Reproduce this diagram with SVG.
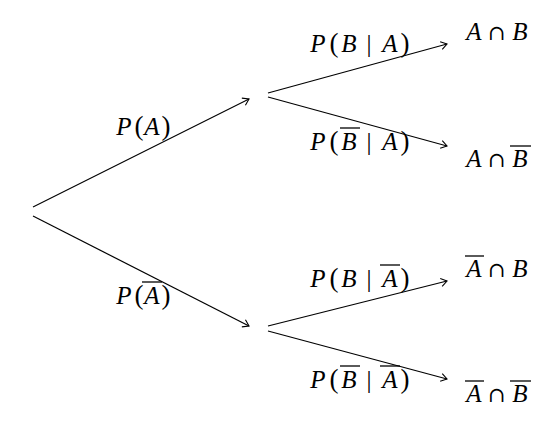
<svg xmlns="http://www.w3.org/2000/svg" width="557" height="428" viewBox="0 0 557 428">
<style>
text{font-family:"Liberation Serif","Times New Roman",serif;font-size:25px;fill:#000;text-anchor:middle}
.i{font-style:italic}
.p{font-size:27px}
.c{font-family:"DejaVu Serif",serif;font-size:21px}
.e{stroke:#000;stroke-width:1.2;fill:none}
.o{stroke:#000;stroke-width:1.3}
</style>
<defs>
<marker id="to" markerUnits="userSpaceOnUse" orient="auto" refX="0" refY="0" markerWidth="12" markerHeight="12" viewBox="-8 -6 10 12" overflow="visible">
<path d="M-6,-4 Q-1.5,-1 0,0 Q-1.5,1 -6,4" fill="none" stroke="#000" stroke-width="1.1"/>
</marker>
</defs>
<g id="edges">
<line class="e" x1="33" y1="207" x2="249" y2="99" marker-end="url(#to)"/>
<line class="e" x1="33" y1="216" x2="249" y2="326" marker-end="url(#to)"/>
<line class="e" x1="268" y1="93" x2="447" y2="44" marker-end="url(#to)"/>
<line class="e" x1="268" y1="97" x2="447" y2="146" marker-end="url(#to)"/>
<line class="e" x1="268" y1="326" x2="447" y2="281" marker-end="url(#to)"/>
<line class="e" x1="268" y1="331" x2="447" y2="379" marker-end="url(#to)"/>
<g id="lbl-BA" transform="translate(0,52)">
<text class="i" x="318" y="0">P</text><text class="p" x="334" y="0">(</text><text class="i" x="349" y="0">B</text><text x="369" y="0">|</text><text class="i" x="390" y="0">A</text><text class="p" x="405" y="0">)</text>
</g>
<g id="lbl-BbarA" transform="translate(0,150)">
<text class="i" x="318" y="0">P</text><text class="p" x="334" y="0">(</text><text class="i" x="349" y="0">B</text><line class="o" x1="340" y1="-22" x2="360" y2="-22"/><text x="369" y="0">|</text><text class="i" x="390" y="0">A</text><text class="p" x="405" y="0">)</text>
</g>
<g id="lbl-BAbar" transform="translate(0,287)">
<text class="i" x="318" y="0">P</text><text class="p" x="334" y="0">(</text><text class="i" x="349" y="0">B</text><text x="369" y="0">|</text><text class="i" x="390" y="0">A</text><line class="o" x1="380" y1="-22" x2="400" y2="-22"/><text class="p" x="405" y="0">)</text>
</g>
<g id="lbl-BbarAbar" transform="translate(0,388)">
<text class="i" x="318" y="0">P</text><text class="p" x="334" y="0">(</text><text class="i" x="349" y="0">B</text><line class="o" x1="340" y1="-22" x2="360" y2="-22"/><text x="369" y="0">|</text><text class="i" x="390" y="0">A</text><line class="o" x1="380" y1="-22" x2="400" y2="-22"/><text class="p" x="405" y="0">)</text>
</g>
<g id="lbl-A" transform="translate(0,135)">
<text class="i" x="124" y="0">P</text><text class="p" x="139" y="0">(</text><text class="i" x="152" y="0">A</text><text class="p" x="166" y="0">)</text>
</g>
<g id="lbl-Abar" transform="translate(0,304)">
<text class="i" x="124" y="0">P</text><text class="p" x="139" y="0">(</text><text class="i" x="152" y="0">A</text><line class="o" x1="142" y1="-22" x2="162" y2="-22"/><text class="p" x="166" y="0">)</text>
</g>
</g>
<g id="AB" transform="translate(0,40)">
<text class="i" x="474" y="0">A</text><text class="c" x="496.5" y="0">∩</text><text class="i" x="520" y="0">B</text>
</g>
<g id="ABbar" transform="translate(0,167)">
<text class="i" x="474" y="0">A</text><text class="c" x="496.5" y="0">∩</text><text class="i" x="520" y="0">B</text><line class="o" x1="510" y1="-21" x2="531" y2="-21"/>
</g>
<g id="AbarB" transform="translate(0,277)">
<text class="i" x="474" y="0">A</text><line class="o" x1="465" y1="-21" x2="484" y2="-21"/><text class="c" x="496.5" y="0">∩</text><text class="i" x="520" y="0">B</text>
</g>
<g id="AbarBbar" transform="translate(0,402)">
<text class="i" x="474" y="0">A</text><line class="o" x1="465" y1="-21" x2="484" y2="-21"/><text class="c" x="496.5" y="0">∩</text><text class="i" x="520" y="0">B</text><line class="o" x1="510" y1="-21" x2="531" y2="-21"/>
</g>
</svg>
